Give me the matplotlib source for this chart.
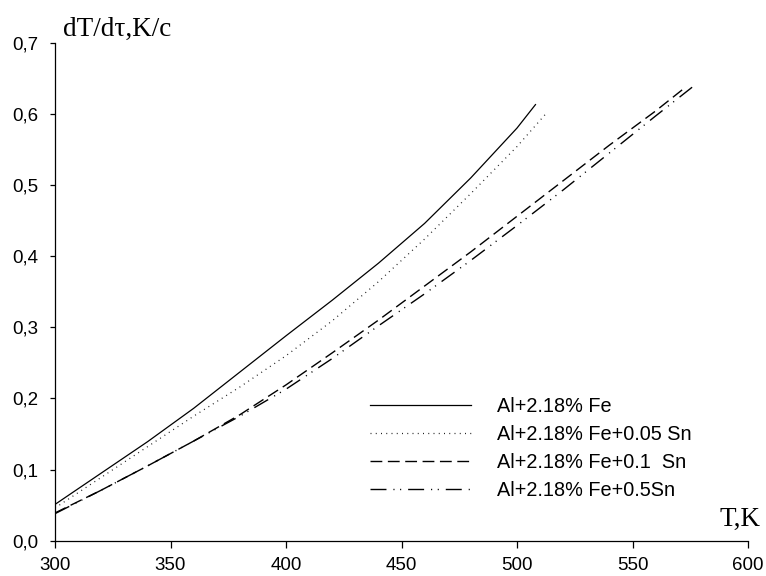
import matplotlib
matplotlib.use("Agg")
import matplotlib.pyplot as plt
from matplotlib.ticker import FixedLocator, FuncFormatter

# ---- data ----
labels = ["Al+2.18% Fe", "Al+2.18% Fe+0.05 Sn", "Al+2.18% Fe+0.1  Sn", "Al+2.18% Fe+0.5Sn"]

t_fe = [300, 320, 340, 360, 380, 400, 420, 440, 460, 480, 500, 508]
v_fe = [0.051, 0.095, 0.139, 0.186, 0.237, 0.288, 0.338, 0.390, 0.446, 0.510, 0.580, 0.613]

t_sn005 = [300, 320, 340, 360, 380, 400, 420, 440, 460, 480, 500, 513]
v_sn005 = [0.046, 0.089, 0.132, 0.175, 0.216, 0.260, 0.309, 0.364, 0.424, 0.488, 0.554, 0.602]

t_sn01 = [300, 320, 340, 360, 380, 400, 420, 440, 460, 480, 500, 520, 540, 560, 572]
v_sn01 = [0.039, 0.071, 0.105, 0.140, 0.177, 0.219, 0.264, 0.310, 0.358, 0.406, 0.456, 0.506, 0.556, 0.604, 0.635]

t_sn05 = [300, 320, 340, 360, 380, 400, 420, 440, 460, 480, 500, 520, 540, 560, 578]
v_sn05 = [0.038, 0.071, 0.105, 0.140, 0.175, 0.213, 0.256, 0.302, 0.347, 0.394, 0.443, 0.493, 0.545, 0.597, 0.643]

x_ticks = [300, 350, 400, 450, 500, 550, 600]
y_ticks = [0.0, 0.1, 0.2, 0.3, 0.4, 0.5, 0.6, 0.7]

plt.rcParams['font.family'] = ['Liberation Sans', 'DejaVu Sans']

fig = plt.figure(figsize=(7.66, 5.76), dpi=100)
W, H = 766, 576
ax = fig.add_axes([55 / W, 1 - 540.7 / H, (748 - 55) / W, (540.7 - 42.7) / H])

ax.plot(t_fe, v_fe, color='black', lw=0.9, linestyle='-', label=labels[0])
ax.plot(t_sn005, v_sn005, color='#222222', lw=0.9, linestyle=(0, (0.8, 3.4)), label=labels[1])
ax.plot(t_sn01, v_sn01, color='black', lw=1.0, linestyle=(0, (8.5, 4.0)), label=labels[2])
ax.plot(t_sn05, v_sn05, color='black', lw=1.0,
        linestyle=(0, (11.5, 5.0, 0.8, 4.0, 0.8, 5.0)), label=labels[3])

ax.set_xlim(300, 600)
ax.set_ylim(0, 0.7)
ax.xaxis.set_major_locator(FixedLocator(x_ticks))
ax.yaxis.set_major_locator(FixedLocator(y_ticks))
ax.xaxis.set_major_formatter(FuncFormatter(lambda v, p: f"{int(round(v))}"))
ax.yaxis.set_major_formatter(FuncFormatter(lambda v, p: f"{v:.1f}".replace('.', ',')))

for s in ['top', 'right']:
    ax.spines[s].set_visible(False)
for s in ['left', 'bottom']:
    ax.spines[s].set_linewidth(0.9)
ax.tick_params(axis='x', direction='out', length=4.7, width=0.9, pad=7, labelsize=13.5)
ax.tick_params(axis='y', direction='out', length=3.5, width=0.9, pad=8.5, labelsize=13.5)

leg = ax.legend(loc='upper left', bbox_to_anchor=(370 / W, 1 - 397 / H),
                bbox_transform=fig.transFigure, frameon=False, fontsize=14.3,
                handlelength=5.1, handletextpad=1.29, labelspacing=0.46,
                borderpad=0, borderaxespad=0)

serif = ['Liberation Serif', 'DejaVu Serif']
fig.text(63 / W, 1 - 36 / H, "dT/d\u03c4,K/c", family=serif, fontsize=19.5,
         ha='left', va='baseline')
fig.text(760.7 / W, 1 - 526 / H, "T,K", family=serif, fontsize=19.5,
         ha='right', va='baseline')

fig.savefig("out.png", dpi=100)
